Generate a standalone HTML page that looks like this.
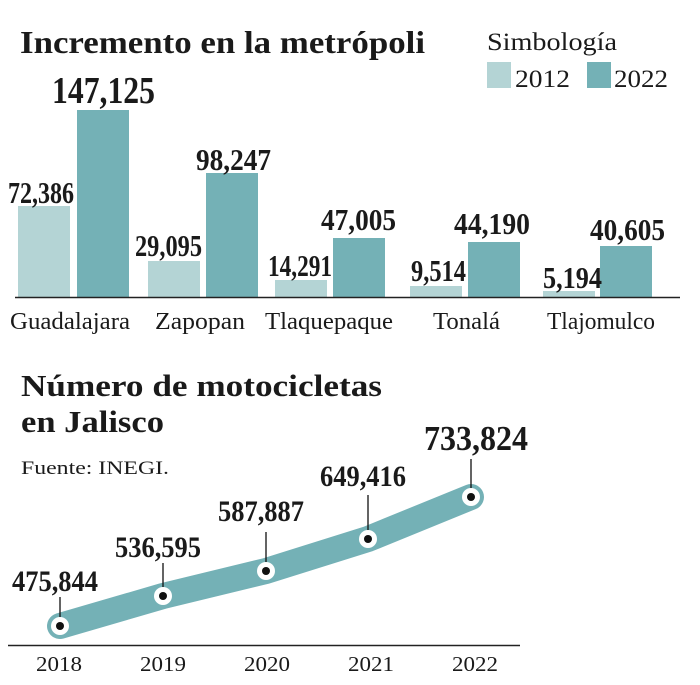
<!DOCTYPE html>
<html><head><meta charset="utf-8"><style>
html,body{margin:0;padding:0;background:#fff;}
svg{display:block;}
text{font-family:"Liberation Serif",serif;fill:#1a1a1a;}
.b{font-weight:bold;}
</style></head><body>
<svg width="700" height="685" viewBox="0 0 700 685">
<text class="b" x="20" y="53" font-size="32" textLength="405" lengthAdjust="spacingAndGlyphs">Incremento en la metrópoli</text>
<text x="487" y="50" font-size="25" textLength="130" lengthAdjust="spacingAndGlyphs">Simbología</text>
<rect x="487" y="62" width="24" height="26" fill="#b4d4d5"/>
<text x="515" y="87" font-size="25" textLength="55" lengthAdjust="spacingAndGlyphs">2012</text>
<rect x="587" y="62" width="24" height="26" fill="#74b1b6"/>
<text x="614" y="87" font-size="25" textLength="54" lengthAdjust="spacingAndGlyphs">2022</text>

<g fill="#b4d4d5">
<rect x="18" y="206" width="52" height="91"/>
<rect x="148" y="261" width="52" height="36"/>
<rect x="275" y="280" width="52" height="17"/>
<rect x="410" y="286" width="52" height="11"/>
<rect x="543" y="291" width="52" height="6"/>
</g>
<g fill="#74b1b6">
<rect x="77" y="110" width="52" height="187"/>
<rect x="206" y="173" width="52" height="124"/>
<rect x="333" y="238" width="52" height="59"/>
<rect x="468" y="242" width="52" height="55"/>
<rect x="600" y="246" width="52" height="51"/>
</g>
<line x1="15" y1="297.5" x2="680" y2="297.5" stroke="#222" stroke-width="1.5"/>
<g font-size="31">
<text class="b" x="52" y="103" font-size="38" textLength="103" lengthAdjust="spacingAndGlyphs">147,125</text>
<text class="b" x="8" y="203" textLength="66" lengthAdjust="spacingAndGlyphs">72,386</text>
<text class="b" x="196" y="170" textLength="75" lengthAdjust="spacingAndGlyphs">98,247</text>
<text class="b" x="135" y="256" textLength="67" lengthAdjust="spacingAndGlyphs">29,095</text>
<text class="b" x="321" y="230" textLength="75" lengthAdjust="spacingAndGlyphs">47,005</text>
<text class="b" x="268" y="276" textLength="64" lengthAdjust="spacingAndGlyphs">14,291</text>
<text class="b" x="454" y="234" textLength="76" lengthAdjust="spacingAndGlyphs">44,190</text>
<text class="b" x="411" y="281" textLength="55" lengthAdjust="spacingAndGlyphs">9,514</text>
<text class="b" x="590" y="240" textLength="75" lengthAdjust="spacingAndGlyphs">40,605</text>
<text class="b" x="543" y="288" textLength="59" lengthAdjust="spacingAndGlyphs">5,194</text>
</g>
<g font-size="24">
<text x="10" y="329" textLength="120" lengthAdjust="spacingAndGlyphs">Guadalajara</text>
<text x="155" y="329" textLength="90" lengthAdjust="spacingAndGlyphs">Zapopan</text>
<text x="265" y="329" textLength="128" lengthAdjust="spacingAndGlyphs">Tlaquepaque</text>
<text x="433" y="329" textLength="67" lengthAdjust="spacingAndGlyphs">Tonalá</text>
<text x="547" y="329" textLength="108" lengthAdjust="spacingAndGlyphs">Tlajomulco</text>
</g>

<text class="b" x="21" y="396" font-size="31" textLength="361" lengthAdjust="spacingAndGlyphs">Número de motocicletas</text>
<text class="b" x="21" y="432" font-size="31" textLength="143" lengthAdjust="spacingAndGlyphs">en Jalisco</text>
<text x="21" y="474" font-size="19" textLength="148" lengthAdjust="spacingAndGlyphs">Fuente: INEGI.</text>

<polyline points="60,626 163,596 266,571 368,539 471,497" fill="none" stroke="#74b1b6" stroke-width="26" stroke-linejoin="round" stroke-linecap="round"/>
<g stroke="#111" stroke-width="1.3">
<line x1="60" y1="626" x2="60" y2="597"/>
<line x1="163" y1="596" x2="163" y2="563"/>
<line x1="266" y1="571" x2="266" y2="532"/>
<line x1="368" y1="539" x2="368" y2="495"/>
<line x1="471" y1="497" x2="471" y2="459"/>
</g>
<g fill="#fff">
<circle cx="60" cy="626" r="9"/><circle cx="163" cy="596" r="9"/><circle cx="266" cy="571" r="9"/><circle cx="368" cy="539" r="9"/><circle cx="471" cy="497" r="9"/>
</g>
<g fill="#111">
<circle cx="60" cy="626" r="4"/><circle cx="163" cy="596" r="4"/><circle cx="266" cy="571" r="4"/><circle cx="368" cy="539" r="4"/><circle cx="471" cy="497" r="4"/>
</g>
<g font-size="30">
<text class="b" x="12" y="591" textLength="86" lengthAdjust="spacingAndGlyphs">475,844</text>
<text class="b" x="115" y="557" textLength="86" lengthAdjust="spacingAndGlyphs">536,595</text>
<text class="b" x="218" y="521" textLength="86" lengthAdjust="spacingAndGlyphs">587,887</text>
<text class="b" x="320" y="486" textLength="86" lengthAdjust="spacingAndGlyphs">649,416</text>
<text class="b" x="424" y="450" font-size="35" textLength="104" lengthAdjust="spacingAndGlyphs">733,824</text>
</g>
<line x1="8" y1="645.5" x2="520" y2="645.5" stroke="#222" stroke-width="1.5"/>
<g font-size="21">
<text x="36" y="671" textLength="46" lengthAdjust="spacingAndGlyphs">2018</text>
<text x="140" y="671" textLength="46" lengthAdjust="spacingAndGlyphs">2019</text>
<text x="244" y="671" textLength="46" lengthAdjust="spacingAndGlyphs">2020</text>
<text x="348" y="671" textLength="46" lengthAdjust="spacingAndGlyphs">2021</text>
<text x="452" y="671" textLength="46" lengthAdjust="spacingAndGlyphs">2022</text>
</g>
</svg>
</body></html>
